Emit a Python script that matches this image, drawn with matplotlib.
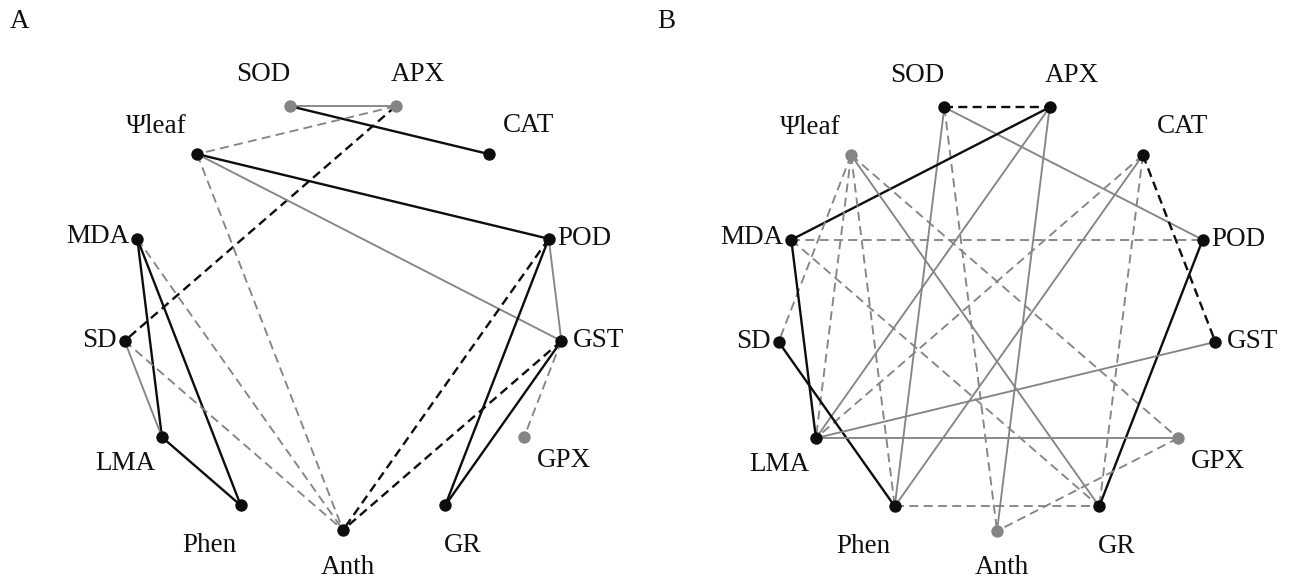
"""Correlation networks of leaf traits and antioxidant enzymes (panels A and B)."""
import numpy as np
import matplotlib.pyplot as plt

plt.rcParams["font.family"] = ["Liberation Serif", "DejaVu Serif"]
plt.rcParams["lines.scale_dashes"] = False

# nodes, clockwise from the bottom of the circle
nodes = ["Anth", "Phen", "LMA", "SD", "MDA", "\u03a8leaf", "SOD",
         "APX", "CAT", "POD", "GST", "GPX", "GR"]

# nodes drawn in grey in each panel
grey_nodes_a = ["SOD", "APX", "GPX"]
grey_nodes_b = ["\u03a8leaf", "GPX", "Anth"]

# edges: (node, node, colour k=black g=grey, style s=solid d=dashed)
edges_a = [
    ("SOD", "APX", "g", "s"),
    ("SOD", "CAT", "k", "s"),
    ("APX", "\u03a8leaf", "g", "d"),
    ("APX", "SD", "k", "d"),
    ("\u03a8leaf", "POD", "k", "s"),
    ("\u03a8leaf", "GST", "g", "s"),
    ("\u03a8leaf", "Anth", "g", "d"),
    ("MDA", "LMA", "k", "s"),
    ("MDA", "Phen", "k", "s"),
    ("MDA", "Anth", "g", "d"),
    ("SD", "LMA", "g", "s"),
    ("SD", "Anth", "g", "d"),
    ("LMA", "Phen", "k", "s"),
    ("POD", "GST", "g", "s"),
    ("POD", "GR", "k", "s"),
    ("POD", "Anth", "k", "d"),
    ("GST", "GR", "k", "s"),
    ("GST", "Anth", "k", "d"),
    ("GST", "GPX", "g", "d"),
]

edges_b = [
    ("SOD", "APX", "k", "d"),
    ("SOD", "POD", "g", "s"),
    ("SOD", "Phen", "g", "s"),
    ("SOD", "Anth", "g", "d"),
    ("APX", "MDA", "k", "s"),
    ("APX", "LMA", "g", "s"),
    ("APX", "Anth", "g", "s"),
    ("\u03a8leaf", "SD", "g", "d"),
    ("\u03a8leaf", "LMA", "g", "d"),
    ("\u03a8leaf", "Phen", "g", "d"),
    ("\u03a8leaf", "GR", "g", "s"),
    ("\u03a8leaf", "GPX", "g", "d"),
    ("CAT", "GST", "k", "d"),
    ("CAT", "LMA", "g", "d"),
    ("CAT", "Phen", "g", "s"),
    ("CAT", "GR", "g", "d"),
    ("MDA", "POD", "g", "d"),
    ("MDA", "LMA", "k", "s"),
    ("MDA", "GR", "g", "d"),
    ("POD", "GR", "k", "s"),
    ("SD", "Phen", "k", "s"),
    ("LMA", "GST", "g", "s"),
    ("LMA", "GPX", "g", "s"),
    ("Phen", "GR", "g", "d"),
    ("GPX", "Anth", "g", "d"),
]

# label offsets in pixels from each node, with alignment
label_pos = {
    "Anth": (5, 37, "center"),
    "Phen": (-31, 40, "center"),
    "LMA": (-37, 26, "center"),
    "SD": (-8, 0, "right"),
    "MDA": (-8, -2, "right"),
    "\u03a8leaf": (-41, -28, "center"),
    "SOD": (-27, -32, "center"),
    "APX": (22, -32, "center"),
    "CAT": (40, -29, "center"),
    "POD": (9, 0, "left"),
    "GST": (11, 0, "left"),
    "GPX": (40, 23, "center"),
    "GR": (17, 40, "center"),
}

BLACK = "#0d0d0d"
GREY = "#858585"


def circle_layout(cx, cy, rx, ry):
    n = len(nodes)
    theta = np.arange(n) * 2 * np.pi / n
    return {name: (cx - rx * np.sin(t), cy + ry * np.cos(t))
            for name, t in zip(nodes, theta)}


def draw_network(ax, pos, edges, grey_nodes, tag, tag_xy):
    for a, b, col, sty in edges:
        (x0, y0), (x1, y1) = pos[a], pos[b]
        color = BLACK if col == "k" else GREY
        lw = 1.7 if col == "k" else 1.35
        kw = dict(color=color, lw=lw, zorder=1, solid_capstyle="round")
        if sty == "d":
            ax.plot([x0, x1], [y0, y1], dashes=(6.5, 3.8), **kw)
        else:
            ax.plot([x0, x1], [y0, y1], **kw)
    for name in nodes:
        x, y = pos[name]
        c = GREY if name in grey_nodes else BLACK
        ax.scatter([x], [y], s=80, color=c, zorder=3, linewidths=0)
        dx, dy, ha = label_pos[name]
        ax.annotate(name, (x, y), xytext=(dx, -dy), textcoords="offset pixels",
                    ha=ha, va="center", fontsize=19.5, color="#111111")
    ax.text(tag_xy[0], tag_xy[1], tag, fontsize=19.5, ha="left", va="center",
            color="#111111")


fig = plt.figure(figsize=(12.9, 5.83), dpi=100)
ax = fig.add_axes([0, 0, 1, 1])
ax.set_xlim(0, 1290)
ax.set_ylim(583, 0)
ax.axis("off")

pos_a = circle_layout(343, 315, 220, 215)
pos_b = circle_layout(997, 316, 220, 215)
draw_network(ax, pos_a, edges_a, grey_nodes_a, "A", (10, 22))
draw_network(ax, pos_b, edges_b, grey_nodes_b, "B", (657, 22))

fig.savefig("out.png", dpi=100)
